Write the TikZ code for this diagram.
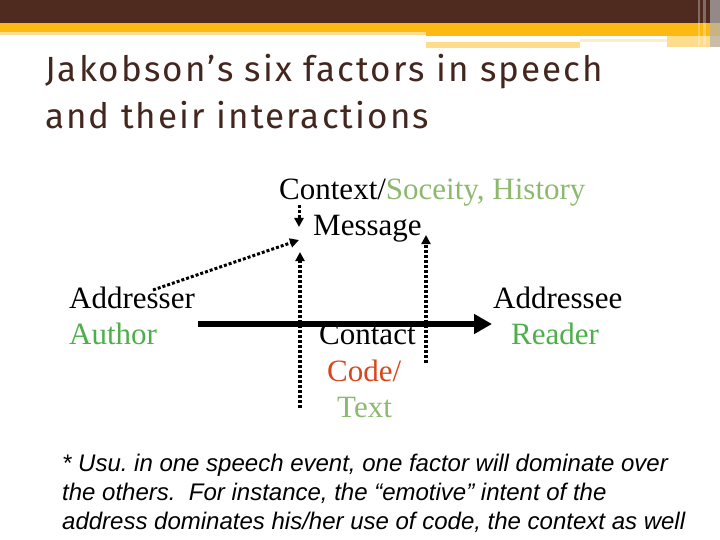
\documentclass[tikz,border=0pt]{standalone}
\usepackage{fontspec}
\setmainfont{Liberation Serif}
\newfontfamily\titlefont[LetterSpace=6]{Fira Sans}
\newfontfamily\notefont{Liberation Sans}
\usetikzlibrary{arrows.meta}
\definecolor{slidebrown}{HTML}{4E2A1F}
\definecolor{slideorange}{HTML}{FDB913}
\definecolor{slidepale}{HTML}{FDDC8E}
\definecolor{titlebrown}{HTML}{43271F}
\definecolor{authorgreen}{HTML}{4EAE4A}
\definecolor{palegreen}{HTML}{8DB96F}
\definecolor{codered}{HTML}{D6471E}
\frenchspacing

\begin{document}
\begin{tikzpicture}[x=1pt, y=-1pt,
  lbl/.style={inner sep=0pt, anchor=base west, font=\fontsize{31}{36}\selectfont},
  dotarrow/.style={line width=3pt, dotted, -{Triangle[length=9pt,width=9pt]}},
  mainarrow/.style={line width=6.5pt, -{Triangle[length=18pt,width=19pt]}}]
\useasboundingbox (0,0) rectangle (720,540);

\fill[slidebrown] (0,0) rectangle (720,23);
\fill[slideorange] (0,23) rectangle (426,32);
\fill[slidepale] (0,32) rectangle (426,35);
\fill[slideorange] (426,23) rectangle (720,36);
\fill[slidepale] (426,42) rectangle (580,48);
\fill[slidepale!50] (580,39) rectangle (667,42);
\fill[slidepale] (667,36) rectangle (720,47);
\fill[gray!60, opacity=0.7] (710,0) rectangle (720,47);
\fill[white, opacity=0.3] (698,0) rectangle (700,45);
\fill[white, opacity=0.3] (703,0) rectangle (706,45);

\node[inner sep=0pt, anchor=base west, text=titlebrown, align=left,
  font=\titlefont\fontsize{35}{47}\selectfont] (title) at (45,129)
  {Jakobson’s six factors in speech\\and their interactions};

\node[lbl] (context) at (279,200) {Context/\textcolor{palegreen}{Soceity, History}};
\node[lbl] (message) at (313,236) {Message};
\node[lbl] (addresser) at (69,308) {Addresser};
\node[lbl, text=authorgreen] (author) at (69,344) {Author};
\node[lbl] (addressee) at (493,308) {Addressee};
\node[lbl, text=authorgreen] (reader) at (511,344) {Reader};
\node[lbl] (contact) at (319,344) {Contact};
\node[lbl, text=codered] (code) at (327,381) {Code/};
\node[lbl, text=palegreen] (text) at (337,417) {Text};

\coordinate (mainfrom) at (198,324);
\coordinate (mainto) at (492,324);
\coordinate (ctxfrom) at (299,205);
\coordinate (ctxto) at (299,227);
\coordinate (sendfrom) at (153,290);
\coordinate (sendto) at (299,240);
\coordinate (chanfrom) at (300,408);
\coordinate (chanto) at (300,252);
\coordinate (recvfrom) at (426,363);
\coordinate (recvto) at (426,235);

\draw[mainarrow] (mainfrom) -- (mainto);
\draw[dotarrow] (ctxfrom) -- (ctxto);
\draw[dotarrow] (sendfrom) -- (sendto);
\draw[dotarrow, line width=3.5pt] (chanfrom) -- (chanto);
\draw[dotarrow, line width=3.5pt] (recvfrom) -- (recvto);

\node[inner sep=0pt, anchor=base west, align=left,
  font=\notefont\itshape\fontsize{24}{29}\selectfont] (note) at (62,529)
  {* Usu. in one speech event, one factor will dominate over\\
   the others.\ \ For instance, the “emotive” intent of the\\
   address dominates his/her use of code, the context as well};
\end{tikzpicture}
\end{document}
